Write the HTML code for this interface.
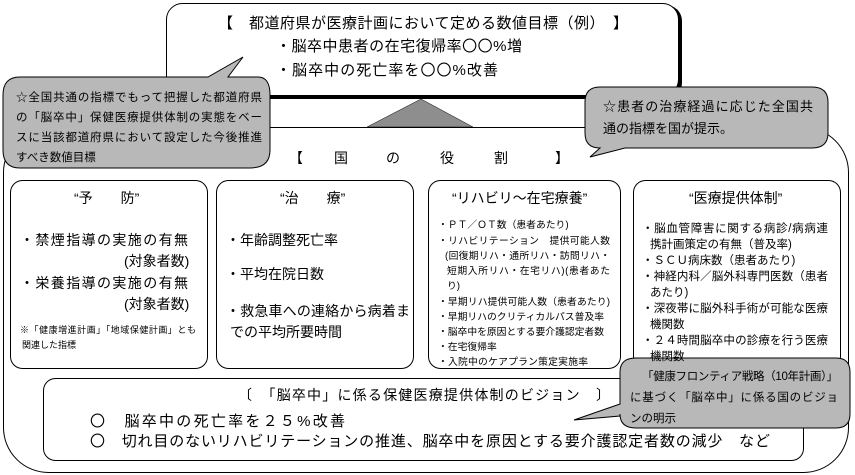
<!DOCTYPE html>
<html><head><meta charset="utf-8"><style>
html,body{margin:0;padding:0;background:#fff}
svg{display:block}
text{font-family:"Liberation Sans","Noto Sans CJK JP",sans-serif;fill:#000}
</style></head><body>
<svg width="855" height="475" viewBox="0 0 855 475" xmlns="http://www.w3.org/2000/svg">
<rect x="3.5" y="127.5" width="845" height="345" rx="45" ry="45" fill="#fff" stroke="#000" stroke-width="1"/>
<rect x="168" y="5" width="514" height="94" rx="16" fill="#000"/>
<rect x="166.5" y="3.5" width="512" height="92" rx="16" fill="#fff" stroke="#000" stroke-width="1"/>
<polygon points="421,99 367,127 473,127" fill="#8e8e8e" stroke="#000" stroke-width="0.5"/>
<rect x="10.5" y="180.5" width="197" height="188" rx="12" fill="#fff" stroke="#000"/>
<rect x="216.5" y="180.5" width="197" height="188" rx="12" fill="#fff" stroke="#000"/>
<rect x="428.5" y="180.5" width="192" height="188" rx="12" fill="#fff" stroke="#000"/>
<rect x="633.5" y="180.5" width="207" height="188" rx="12" fill="#fff" stroke="#000"/>
<rect x="43.5" y="378.5" width="760" height="82" rx="12" fill="#fff" stroke="#000"/>
<path d="M20,77 L208,77 L243,57 L228,77 L258,77 Q270,77 270,95 L270,150 Q270,168 250,168 L20,168 Q3,168 3,150 L3,95 Q3,77 20,77 Z" fill="#b8b8b8" stroke="#000"/>
<path d="M600,87 L812,87 Q828,87 828,102 L828,133 Q828,148 812,148 L625,148 L590,157 L600,148 Q585,148 585,133 L585,102 Q585,87 600,87 Z" fill="#b8b8b8" stroke="#000"/>
<path d="M636,358 L836,358 Q850,358 850,372 L850,414 Q850,428 836,428 L636,428 Q620,428 620,414 L620,416 L574,420 L620,404 L620,372 Q620,358 636,358 Z" fill="#b8b8b8" stroke="#000"/>

<text x="218" y="28" font-size="15" textLength="410">【　都道府県が医療計画において定める数値目標（例）　】</text>
<text x="276" y="51" font-size="15" textLength="246">・脳卒中患者の在宅復帰率〇〇%増</text>
<text x="276" y="75" font-size="15" textLength="222">・脳卒中の死亡率を〇〇%改善</text>

<text font-size="11.5"><tspan x="16" y="101" textLength="246">☆全国共通の指標でもって把握した都道府県</tspan><tspan x="16" y="121" textLength="246">の「脳卒中」保健医療提供体制の実態をベー</tspan><tspan x="16" y="141" textLength="246">スに当該都道府県において設定した今後推進</tspan><tspan x="16" y="161">すべき数値目標</tspan></text>
<text font-size="13"><tspan x="603" y="111" textLength="210">☆患者の治療経過に応じた全国共</tspan><tspan x="603" y="133">通の指標を国が提示。</tspan></text>
<text font-size="11.5"><tspan x="642" y="380" textLength="196">「健康フロンティア戦略（10年計画）」</tspan><tspan x="630" y="401" textLength="208">に基づく「脳卒中」に係る国のビジョ</tspan><tspan x="630" y="422">ンの明示</tspan></text>

<text x="289" y="163" font-size="14">【</text><text x="334" y="163" font-size="14">国</text><text x="386" y="163" font-size="14">の</text><text x="440" y="163" font-size="14">役</text><text x="494" y="163" font-size="14">割</text><text x="555" y="163" font-size="14">】</text>

<text x="74" y="203" font-size="14">“予　　防”</text>
<text font-size="14"><tspan x="20" y="245" textLength="168">・禁煙指導の実施の有無</tspan><tspan x="124" y="266">(対象者数)</tspan><tspan x="20" y="288" textLength="168">・栄養指導の実施の有無</tspan><tspan x="124" y="309">(対象者数)</tspan></text>
<text font-size="9"><tspan x="20" y="333" textLength="176">※「健康増進計画」「地域保健計画」とも</tspan><tspan x="22" y="348">関連した指標</tspan></text>
<text x="280" y="203" font-size="14">“治　　療”</text>
<text font-size="14"><tspan x="226" y="245">・年齢調整死亡率</tspan><tspan x="226" y="279">・平均在院日数</tspan><tspan x="226" y="316" textLength="184">・救急車への連絡から病着ま</tspan><tspan x="230" y="337">での平均所要時間</tspan></text>
<text x="452" y="203" font-size="14">“リハビリ〜在宅療養”</text>
<text font-size="9.8"><tspan x="438" y="228">・ＰＴ／ＯＴ数（患者あたり)</tspan><tspan x="438" y="244" textLength="172">・リハビリテーション　提供可能人数</tspan><tspan x="445" y="259" textLength="165">(回復期リハ・通所リハ・訪問リハ・</tspan><tspan x="447" y="274" textLength="163">短期入所リハ・在宅リハ)(患者あた</tspan><tspan x="447" y="289">り)</tspan><tspan x="438" y="305" textLength="172">・早期リハ提供可能人数（患者あたり)</tspan><tspan x="438" y="320" textLength="166">・早期リハのクリティカルパス普及率</tspan><tspan x="438" y="335" textLength="166">・脳卒中を原因とする要介護認定者数</tspan><tspan x="438" y="350">・在宅復帰率</tspan><tspan x="438" y="365" textLength="150">・入院中のケアプラン策定実施率</tspan></text>
<text x="689" y="203" font-size="14">“医療提供体制”</text>
<text font-size="11.5"><tspan x="642" y="232" textLength="186">・脳血管障害に関する病診/病病連</tspan><tspan x="650" y="248">携計画策定の有無（普及率)</tspan><tspan x="642" y="264">・ＳＣＵ病床数（患者あたり)</tspan><tspan x="642" y="280" textLength="186">・神経内科／脳外科専門医数（患者</tspan><tspan x="650" y="296">あたり)</tspan><tspan x="642" y="312" textLength="186">・深夜帯に脳外科手術が可能な医療</tspan><tspan x="650" y="328">機関数</tspan><tspan x="642" y="344" textLength="186">・２４時間脳卒中の診療を行う医療</tspan><tspan x="650" y="360">機関数</tspan></text>
<text x="238" y="400" font-size="14" textLength="372">〔　「脳卒中」に係る保健医療提供体制のビジョン　〕</text>
<text font-size="15"><tspan x="90" y="426" textLength="255">〇　脳卒中の死亡率を２５%改善</tspan><tspan x="90" y="446" textLength="680">〇　切れ目のないリハビリテーションの推進、脳卒中を原因とする要介護認定者数の減少　など</tspan></text>
</svg>
</body></html>
